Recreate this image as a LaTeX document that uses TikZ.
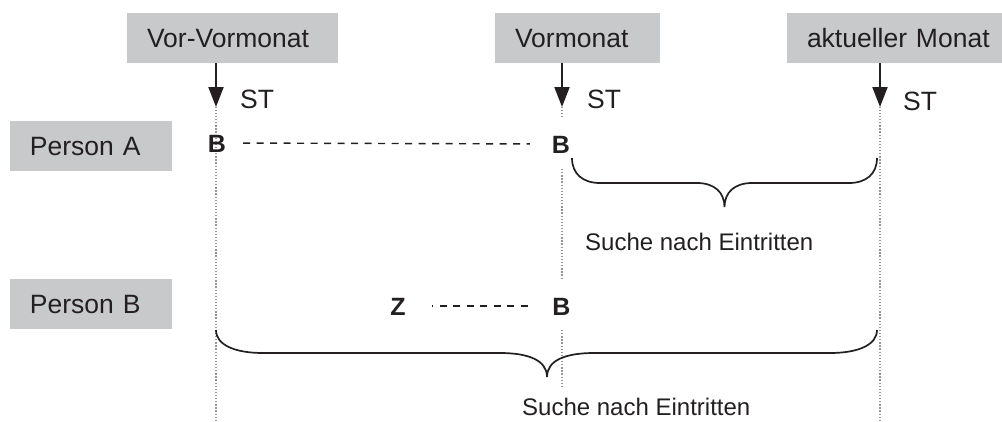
\documentclass[tikz,border=0pt]{standalone}
\usepackage{fontspec}
\setmainfont{Liberation Sans}
\usetikzlibrary{arrows.meta}
\definecolor{boxgray}{RGB}{200,201,203}
\definecolor{ink}{RGB}{35,31,32}
\definecolor{dotgray}{RGB}{150,150,150}
\tikzset{
  monthbox/.style={fill=boxgray, draw=none, minimum height=50pt, text height=19pt, text depth=0pt,
    inner xsep=20pt, inner ysep=0pt, align=left, text=ink, font=\fontsize{26.5}{30}\selectfont},
  lbl/.style={inner sep=0pt, text=ink, font=\fontsize{26.5}{30}\selectfont},
  blbl/.style={inner sep=0pt, text=ink, text height=18pt, text depth=0pt, font=\fontsize{25}{30}\selectfont\bfseries},
  note/.style={inner sep=0pt, text=ink, font=\fontsize{24}{28}\selectfont},
  arr/.style={draw=ink, line width=2pt, -{Triangle[length=20pt,width=15pt]}},
  vdot/.style={draw=dotgray, line width=1.3pt, dash pattern=on 1.3pt off 1.8pt},
  dashline/.style={draw=ink, line width=1.4pt, dash pattern=on 7pt off 6.5pt},
  brace/.style={draw=ink, line width=1.7pt}
}
\begin{document}
\begin{tikzpicture}[x=1pt,y=-1pt]
\useasboundingbox (0,0) rectangle (1002,421);
% month boxes
\node[monthbox, text width=171pt] (vv) at (232.5,38) {Vor-Vormonat};
\node[monthbox, text width=125pt] (vm) at (577.5,38) {Vormonat};
\node[monthbox, text width=186pt] (am) at (900,38) {aktueller Monat};
% person boxes
\node[monthbox, text width=122pt] (pa) at (91,146) {Person A};
\node[monthbox, text width=122pt] (pb) at (91,303.5) {Person B};
% coordinates on the time lines
\coordinate (t1) at (216,107);
\coordinate (t2) at (562,107);
\coordinate (t3) at (880,107);
\coordinate (e1) at (216,421);
\coordinate (e3) at (880,421);
\coordinate (m1) at (562,117);
\coordinate (m2) at (562,169);
\coordinate (m3) at (562,278);
\coordinate (m4) at (562,330);
\coordinate (m5) at (562,388);
% dotted time lines
\draw[vdot] (vv.south -| t1) -- (e1);
\draw[vdot] (vm.south -| t2) -- (m1);
\draw[vdot] (m2) -- (m3);
\draw[vdot] (m4) -- (m5);
\draw[vdot] (am.south -| t3) -- (e3);
% arrows
\draw[arr] (vv.south -| t1) -- (t1);
\draw[arr] (vm.south -| t2) -- (t2);
\draw[arr] (am.south -| t3) -- (t3);
% ST labels
\node[lbl, anchor=base west] (st1) at (240,108) {ST};
\node[lbl, anchor=base west] (st2) at (587,108) {ST};
\node[lbl, anchor=base west] (st3) at (903,110) {ST};
% Person A row
\node[blbl, anchor=base] (ba1) at (217,152) {B};
\node[blbl, anchor=base] (ba2) at (561,153) {B};
\draw[dashline, shorten <=17pt, shorten >=22pt] (ba1.east) -- (ba2.west);
% Person B row
\node[blbl, anchor=base] (zb) at (398,315) {Z};
\node[blbl, anchor=base] (bb) at (561.5,315) {B};
\draw[dashline, dash phase=5.5pt, shorten <=26pt, shorten >=22pt] (zb.east) -- (bb.west);
% braces
\draw[brace] (572,158) .. controls (572,174) and (583,183) .. (600,183) -- (697,183)
  .. controls (714,183) and (724.5,192) .. (724.5,207)
  .. controls (724.5,192) and (735,183) .. (752,183) -- (849,183)
  .. controls (866,183) and (877,174) .. (877,158);
\draw[brace] (216,330) .. controls (216,345) and (235,353) .. (263,353) -- (500,353)
  .. controls (528,353) and (547,360) .. (547,377)
  .. controls (547,360) and (566,353) .. (594,353) -- (830,353)
  .. controls (858,353) and (877,345) .. (877,330);
% brace labels
\node[note, anchor=base west] (s1) at (585,250) {Suche nach Eintritten};
\node[note, anchor=base west] (s2) at (522,415) {Suche nach Eintritten};
\end{tikzpicture}
\end{document}
